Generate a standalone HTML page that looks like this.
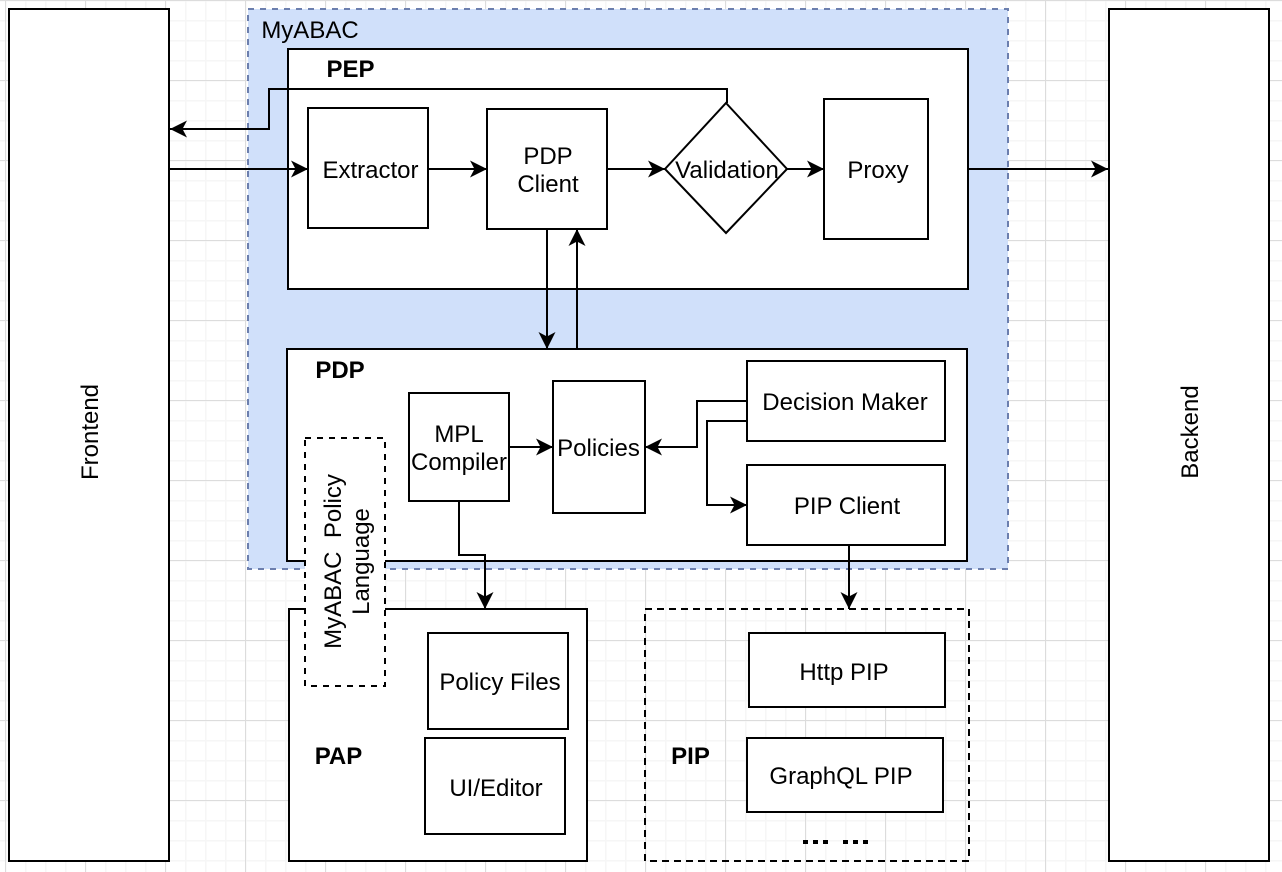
<!DOCTYPE html>
<html>
<head>
<meta charset="utf-8">
<style>
html,body{margin:0;padding:0;background:#fff}
svg{display:block}
text{font-family:"Liberation Sans",Arial,sans-serif;font-size:24px;fill:#000;text-anchor:middle}
.b{font-weight:bold}
.box{fill:#fff;stroke:#000;stroke-width:2}
.ln{fill:none;stroke:#000;stroke-width:2}
</style>
</head>
<body>
<svg width="1282" height="872" viewBox="0 0 1282 872" xmlns="http://www.w3.org/2000/svg">
<defs>
<pattern id="minor" x="5" y="0" width="20" height="20" patternUnits="userSpaceOnUse">
<path d="M0 0V20M0 0H20" stroke="#f6f6f6" stroke-width="3" fill="none"/>
</pattern>
<pattern id="major" x="5" y="0" width="80" height="80" patternUnits="userSpaceOnUse">
<path d="M0.5 0V80M0 0.5H80" stroke="#dcdcdc" stroke-width="1" fill="none"/>
</pattern>
<marker id="a" markerUnits="userSpaceOnUse" markerWidth="20" markerHeight="20" refX="18" refY="9" orient="auto">
<path d="M1 0.500L18 9L1 17.500L5.500 9Z" fill="#000"/>
</marker>
</defs>
<rect width="1282" height="872" fill="url(#minor)"/>
<rect width="1282" height="872" fill="url(#major)"/>

<rect x="248" y="9" width="760" height="560" fill="#d0e0fa" stroke="#6c7fae" stroke-width="2" stroke-dasharray="6 6"/>
<text x="310" y="38">MyABAC</text>

<rect class="box" x="9" y="9" width="160" height="852"/>
<rect class="box" x="1109" y="9" width="160" height="852"/>
<text transform="translate(98 432) rotate(-90)">Frontend</text>
<text transform="translate(1198 432) rotate(-90)">Backend</text>

<rect class="box" x="288" y="49" width="680" height="240"/>
<text class="b" x="350.500" y="77">PEP</text>
<rect class="box" x="287" y="349" width="680" height="212"/>
<text class="b" x="340" y="378">PDP</text>
<rect class="box" x="289" y="609" width="298" height="252"/>
<text class="b" x="338.500" y="764">PAP</text>
<rect x="645" y="609" width="324" height="252" fill="none" stroke="#000" stroke-width="2" stroke-dasharray="7 5"/>
<text class="b" x="690.500" y="764">PIP</text>

<rect class="box" x="308" y="108" width="120" height="120"/>
<text x="370.500" y="178">Extractor</text>
<rect class="box" x="487" y="109" width="120" height="120"/>
<text x="548" y="164">PDP</text>
<text x="548" y="192">Client</text>
<path class="box" d="M726 103L787 169L726 233L665 169Z"/>
<text x="727" y="178">Validation</text>
<rect class="box" x="824" y="99" width="104" height="140"/>
<text x="878" y="178">Proxy</text>

<rect class="box" x="409" y="393" width="100" height="108"/>
<text x="459" y="442">MPL</text>
<text x="459" y="470">Compiler</text>
<rect class="box" x="553" y="381" width="92" height="132"/>
<text x="598.500" y="456">Policies</text>
<rect class="box" x="747" y="361" width="198" height="80"/>
<text x="845" y="410">Decision Maker</text>
<rect class="box" x="747" y="465" width="198" height="80"/>
<text x="847" y="514">PIP Client</text>

<rect class="box" x="428" y="633" width="140" height="96"/>
<text x="500" y="690">Policy Files</text>
<rect class="box" x="425" y="738" width="140" height="96"/>
<text x="496" y="796">UI/Editor</text>
<rect class="box" x="749" y="633" width="196" height="74"/>
<text x="844" y="680">Http PIP</text>
<rect class="box" x="747" y="738" width="196" height="74"/>
<text x="841" y="784">GraphQL PIP</text>
<path d="M803 840h5v4h-5zM813 840h5v4h-5zM823 840h5v4h-5zM843 840h5v4h-5zM853 840h5v4h-5zM863 840h5v4h-5z" fill="#000"/>

<path class="ln" marker-end="url(#a)" d="M169 169H308"/>
<path class="ln" marker-end="url(#a)" d="M428 169H487"/>
<path class="ln" marker-end="url(#a)" d="M607 169H665"/>
<path class="ln" marker-end="url(#a)" d="M787 169H824"/>
<path class="ln" marker-end="url(#a)" d="M968 169H1108"/>
<path class="ln" marker-end="url(#a)" d="M727 103V89H269V129H170"/>
<path class="ln" marker-end="url(#a)" d="M547 229V349"/>
<path class="ln" marker-end="url(#a)" d="M577 349V229"/>
<path class="ln" marker-end="url(#a)" d="M509 447H553"/>
<path class="ln" marker-end="url(#a)" d="M747 401H697V447H645"/>
<path class="ln" marker-end="url(#a)" d="M747 421H707V505H747"/>
<path class="ln" marker-end="url(#a)" d="M459 501V555H485V609"/>
<path class="ln" marker-end="url(#a)" d="M849 545V609"/>

<rect x="305" y="438" width="80" height="248" fill="#fff" stroke="#000" stroke-width="2" stroke-dasharray="6 6"/>
<text transform="translate(341 561.500) rotate(-90)" xml:space="preserve">MyABAC  Policy</text>
<text transform="translate(369 561.500) rotate(-90)">Language</text>
</svg>
</body>
</html>
